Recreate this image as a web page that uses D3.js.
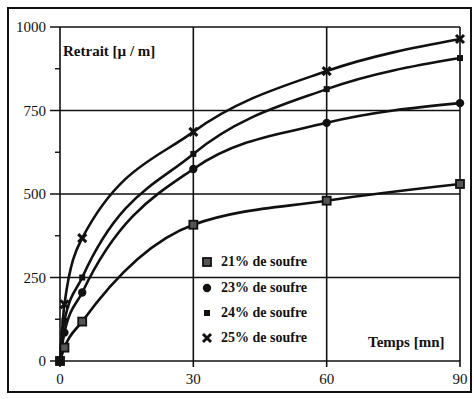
<!DOCTYPE html>
<html>
<head>
<meta charset="utf-8">
<script src="https://cdn.jsdelivr.net/npm/d3@7"></script>
<style>
  html, body { margin: 0; padding: 0; background: #fff; }
  svg { display: block; }
  text { font-family: "Liberation Serif", "DejaVu Serif", serif; fill: #111; }
</style>
</head>
<body>
<svg id="chart" width="474" height="399"></svg>
<script>
// Shrinkage (µ/m) over time (minutes) for four sulphur contents
const times = [0, 1, 5, 30, 60, 90];
const s21 = [0, 40, 118, 408, 480, 530];
const s23 = [0, 85, 205, 575, 713, 772];
const s24 = [0, 120, 250, 620, 814, 907];
const s25 = [0, 170, 368, 686, 868, 964];

const seriesNames = ["21% de soufre", "23% de soufre", "24% de soufre", "25% de soufre"];
const seriesValues = [s21, s23, s24, s25];
const markerKinds = ["hollowSquare", "dot", "square", "cross"];

const xTicks = [0, 30, 60, 90];
const yTicks = [0, 250, 500, 750, 1000];
const yMinorTicks = [125, 375, 625, 875];

const svg = d3.select("#chart");
const ink = "#111";

// outer frame
svg.append("rect")
  .attr("x", 8).attr("y", 8).attr("width", 463).attr("height", 384)
  .attr("fill", "none").attr("stroke", ink).attr("stroke-width", 2);

const x = d3.scaleLinear().domain([0, 90]).range([60, 460]);
const y = d3.scaleLinear().domain([0, 1000]).range([361, 27]);

const plot = svg.append("g");

// grid lines
plot.selectAll(".vgrid").data(xTicks).join("line")
  .attr("x1", d => x(d)).attr("x2", d => x(d))
  .attr("y1", y(1000)).attr("y2", y(0) + 6)
  .attr("stroke", ink).attr("stroke-width", 1.6);
plot.selectAll(".hgrid").data(yTicks).join("line")
  .attr("x1", x(0) - 10).attr("x2", x(90))
  .attr("y1", d => y(d)).attr("y2", d => y(d))
  .attr("stroke", ink).attr("stroke-width", 1.6);
plot.selectAll(".minor").data(yMinorTicks).join("line")
  .attr("x1", x(0) - 5).attr("x2", x(0))
  .attr("y1", d => y(d)).attr("y2", d => y(d))
  .attr("stroke", ink).attr("stroke-width", 1.4);

// tick labels
plot.selectAll(".ylab").data(yTicks).join("text")
  .attr("x", 46).attr("y", d => y(d) + 5)
  .attr("text-anchor", "end").attr("font-size", 15)
  .text(d => d);
plot.selectAll(".xlab").data(xTicks).join("text")
  .attr("x", d => x(d)).attr("y", 384)
  .attr("text-anchor", "middle").attr("font-size", 15)
  .text(d => d);

// axis titles
plot.append("text").attr("x", 63).attr("y", 56)
  .attr("font-size", 15).attr("font-weight", "bold")
  .text("Retrait [µ / m]");
plot.append("text").attr("x", 368).attr("y", 347)
  .attr("font-size", 15).attr("font-weight", "bold")
  .text("Temps [mn]");

// curves
const line = d3.line()
  .x((d, i) => x(times[i]))
  .y(d => y(d))
  .curve(d3.curveMonotoneX);

plot.selectAll(".curve").data(seriesValues).join("path")
  .attr("d", d => line(d))
  .attr("fill", "none").attr("stroke", ink)
  .attr("stroke-width", 2.6).attr("stroke-linejoin", "round");

function drawMarker(g, kind, cx, cy) {
  if (kind === "hollowSquare") {
    g.append("rect").attr("x", cx - 4).attr("y", cy - 4)
      .attr("width", 8).attr("height", 8)
      .attr("fill", "#555").attr("stroke", ink).attr("stroke-width", 1.8);
  } else if (kind === "dot") {
    g.append("path")
      .attr("d", d3.symbol(d3.symbolCircle, 55)())
      .attr("transform", `translate(${cx},${cy})`).attr("fill", ink);
  } else if (kind === "square") {
    g.append("rect").attr("x", cx - 3).attr("y", cy - 3)
      .attr("width", 6).attr("height", 6).attr("fill", ink);
  } else {
    g.append("path")
      .attr("d", `M${cx - 4},${cy - 4}L${cx + 4},${cy + 4}M${cx + 4},${cy - 4}L${cx - 4},${cy + 4}`)
      .attr("stroke", ink).attr("stroke-width", 3);
  }
}

// markers on each curve
seriesValues.forEach((vals, si) => {
  const g = plot.append("g");
  vals.forEach((v, i) => drawMarker(g, markerKinds[si], x(times[i]), y(v)));
});

// legend
const legendY = [262, 288, 313, 338];
seriesNames.forEach((name, i) => {
  const g = plot.append("g");
  drawMarker(g, markerKinds[i], 207, legendY[i]);
  g.append("text").attr("x", 221).attr("y", legendY[i] + 4)
    .attr("font-size", 14).attr("font-weight", "bold")
    .text(name);
});
</script>
</body>
</html>
